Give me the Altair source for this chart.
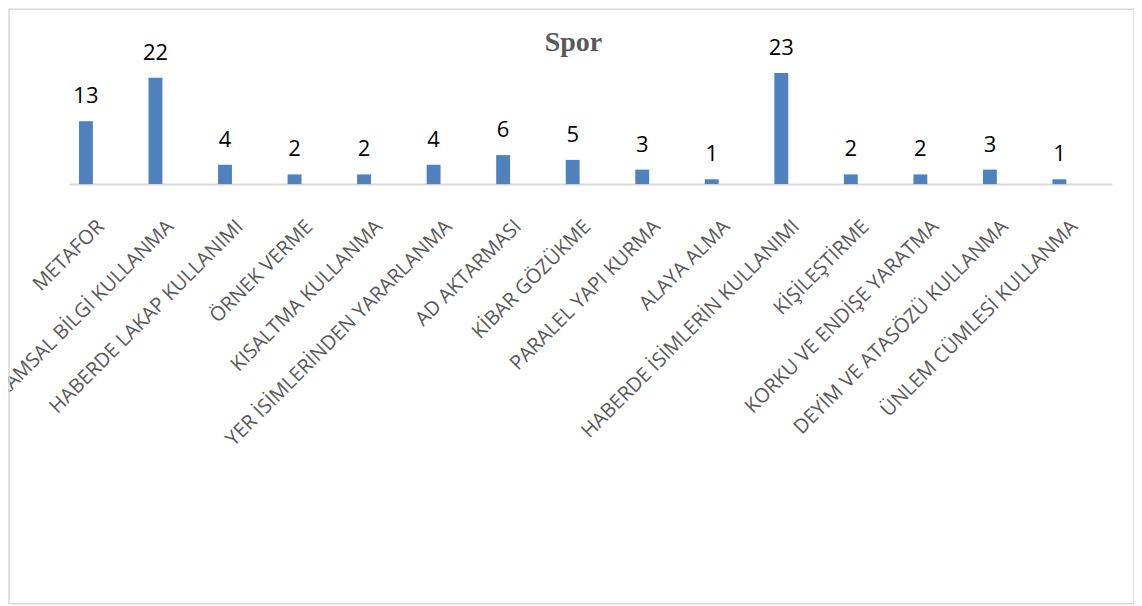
import altair as alt
import pandas as pd

categories = [
    "METAFOR", "RAKAMSAL BİLGİ KULLANMA", "HABERDE LAKAP KULLANIMI", "ÖRNEK VERME",
    "KISALTMA KULLANMA", "YER İSİMLERİNDEN YARARLANMA", "AD AKTARMASI", "KİBAR GÖZÜKME",
    "PARALEL YAPI KURMA", "ALAYA ALMA", "HABERDE İSİMLERİN KULLANIMI", "KİŞİLEŞTİRME",
    "KORKU VE ENDİŞE YARATMA", "DEYİM VE ATASÖZÜ KULLANMA", "ÜNLEM CÜMLESİ KULLANMA",
]
values = [13, 22, 4, 2, 2, 4, 6, 5, 3, 1, 23, 2, 2, 3, 1]
title_text = "Spor"

df = pd.DataFrame({"kategori": categories, "deger": values})

W, H = 1044, 121

xscale = alt.Scale(paddingInner=0.8, paddingOuter=0.4, align=0.18)
x = alt.X("kategori:N", sort=categories, scale=xscale,
          axis=alt.Axis(title=None, labelAngle=-45, labelAlign="right", labelBaseline="middle",
                        labelFont="Open Sans", labelFontSize=20, labelColor="#595959",
                        labelPadding=39, labelOffset=15, labelLimit=0,
                        ticks=False, domainColor="#d9d9d9", domainWidth=2, grid=False))
y = alt.Y("deger:Q", scale=alt.Scale(domain=[0, 25]), axis=None)

base = alt.Chart(df)
bars = base.mark_bar(color="#4f81bd").encode(x=x, y=y)
text = base.mark_text(baseline="alphabetic", dy=-18, font="Open Sans", fontSize=22, color="#000000").encode(
    x=alt.X("kategori:N", sort=categories, scale=xscale), y=y, text="deger:Q")

frame = alt.Chart(pd.DataFrame({"a": [0]})).mark_rect(
    fill=None, stroke="#d9d9d9", strokeWidth=1.5
).encode(x=alt.value(-60), x2=alt.value(1066), y=alt.value(-54), y2=alt.value(541))

title = alt.Chart(pd.DataFrame({"t": [title_text]})).mark_text(
    font="Liberation Serif", fontSize=28, fontWeight="bold", color="#595959",
    align="center", baseline="alphabetic"
).encode(x=alt.value(505), y=alt.value(-12), text="t:N")

chart = alt.layer(frame, bars, text, title).properties(
    width=W, height=H,
    background="white",
    autosize=alt.AutoSizeParams(type="none"),
    padding={"left": 61, "top": 55, "right": 22, "bottom": 421},
).configure_view(stroke=None)

chart.save("out.html", embed_options={"renderer": "svg", "actions": False})
